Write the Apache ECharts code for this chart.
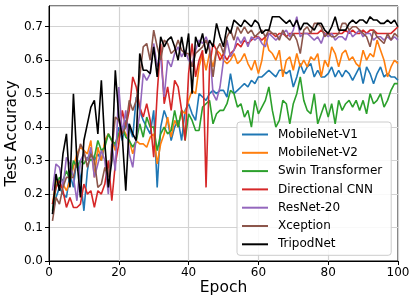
<!DOCTYPE html>
<html>
<head>
<meta charset="utf-8">
<script src="https://cdn.jsdelivr.net/npm/echarts@6/dist/echarts.min.js"></script>
<style>html,body{margin:0;padding:0;background:#fff}#c{width:415px;height:303px}</style>
</head>
<body>
<div id="c"></div>
<script>
const epochs = Array.from({length: 100}, (_, i) => i + 1);
const seriesNames = ["MobileNet-V1", "MobileNet-V2", "Swin Transformer", "Directional CNN", "ResNet-20", "Xception", "TripodNet"];
const mobilenetV1 = [0.14,0.19,0.22,0.20,0.19,0.26,0.22,0.31,0.25,0.15,0.27,0.33,0.30,0.32,0.30,0.35,0.38,0.36,0.34,0.40,0.36,0.42,0.40,0.37,0.49,0.45,0.42,0.40,0.38,0.45,0.22,0.40,0.45,0.42,0.36,0.40,0.42,0.36,0.45,0.47,0.44,0.42,0.50,0.49,0.48,0.50,0.51,0.50,0.51,0.51,0.49,0.56,0.50,0.51,0.52,0.53,0.52,0.54,0.53,0.55,0.55,0.56,0.57,0.56,0.55,0.57,0.57,0.56,0.57,0.52,0.55,0.59,0.56,0.58,0.59,0.55,0.57,0.55,0.55,0.56,0.58,0.55,0.57,0.55,0.57,0.56,0.54,0.56,0.58,0.53,0.58,0.56,0.53,0.56,0.58,0.55,0.56,0.55,0.55,0.54];
const mobilenetV2 = [0.17,0.24,0.22,0.23,0.21,0.24,0.28,0.32,0.34,0.33,0.32,0.36,0.25,0.34,0.30,0.36,0.38,0.36,0.33,0.38,0.40,0.38,0.36,0.32,0.36,0.35,0.35,0.34,0.37,0.38,0.29,0.35,0.38,0.43,0.37,0.42,0.40,0.45,0.44,0.48,0.51,0.50,0.58,0.62,0.57,0.62,0.58,0.63,0.62,0.60,0.59,0.60,0.62,0.59,0.60,0.62,0.59,0.57,0.60,0.56,0.60,0.67,0.63,0.62,0.60,0.63,0.55,0.60,0.61,0.57,0.62,0.58,0.60,0.58,0.61,0.60,0.62,0.55,0.60,0.58,0.64,0.62,0.58,0.62,0.63,0.60,0.61,0.59,0.58,0.63,0.60,0.62,0.61,0.66,0.63,0.60,0.55,0.58,0.60,0.59];
const swin = [0.15,0.22,0.25,0.24,0.27,0.24,0.30,0.28,0.30,0.29,0.31,0.30,0.31,0.36,0.33,0.34,0.38,0.36,0.35,0.38,0.40,0.37,0.36,0.34,0.36,0.41,0.37,0.43,0.40,0.40,0.33,0.38,0.40,0.38,0.39,0.45,0.40,0.45,0.36,0.44,0.42,0.39,0.39,0.46,0.47,0.48,0.41,0.44,0.45,0.45,0.47,0.51,0.50,0.46,0.47,0.43,0.45,0.40,0.48,0.44,0.46,0.48,0.52,0.45,0.40,0.42,0.48,0.47,0.41,0.47,0.50,0.55,0.48,0.45,0.44,0.50,0.41,0.44,0.47,0.43,0.47,0.41,0.48,0.45,0.47,0.48,0.46,0.48,0.45,0.48,0.44,0.50,0.47,0.48,0.50,0.46,0.48,0.51,0.53,0.53];
const directionalCnn = [0.17,0.22,0.24,0.21,0.16,0.19,0.16,0.16,0.17,0.23,0.20,0.21,0.16,0.21,0.20,0.23,0.30,0.18,0.29,0.35,0.45,0.40,0.45,0.55,0.52,0.46,0.43,0.47,0.42,0.31,0.50,0.65,0.47,0.52,0.45,0.54,0.52,0.45,0.36,0.56,0.65,0.55,0.60,0.63,0.22,0.58,0.65,0.63,0.60,0.62,0.60,0.62,0.63,0.65,0.64,0.66,0.65,0.66,0.67,0.67,0.66,0.67,0.68,0.68,0.67,0.68,0.68,0.67,0.68,0.68,0.68,0.68,0.68,0.68,0.68,0.68,0.68,0.69,0.68,0.68,0.68,0.68,0.68,0.68,0.69,0.68,0.69,0.68,0.68,0.69,0.68,0.69,0.69,0.68,0.68,0.68,0.68,0.68,0.69,0.70];
const resnet20 = [0.21,0.29,0.28,0.22,0.31,0.29,0.25,0.18,0.30,0.32,0.30,0.34,0.25,0.29,0.33,0.30,0.20,0.35,0.27,0.52,0.38,0.45,0.32,0.28,0.37,0.44,0.56,0.54,0.56,0.65,0.58,0.61,0.49,0.60,0.58,0.62,0.64,0.61,0.63,0.60,0.59,0.63,0.66,0.65,0.67,0.64,0.50,0.48,0.52,0.60,0.66,0.61,0.63,0.67,0.65,0.67,0.64,0.67,0.66,0.67,0.65,0.64,0.68,0.67,0.66,0.67,0.68,0.69,0.67,0.69,0.73,0.67,0.68,0.68,0.67,0.66,0.67,0.65,0.68,0.67,0.68,0.66,0.67,0.67,0.66,0.69,0.67,0.68,0.69,0.67,0.68,0.68,0.66,0.67,0.67,0.66,0.67,0.66,0.67,0.66];
const xception = [0.12,0.19,0.17,0.22,0.25,0.25,0.25,0.30,0.35,0.33,0.28,0.32,0.30,0.22,0.23,0.28,0.25,0.33,0.43,0.42,0.38,0.40,0.48,0.45,0.48,0.55,0.64,0.65,0.60,0.69,0.64,0.60,0.66,0.65,0.62,0.63,0.66,0.63,0.62,0.62,0.58,0.62,0.63,0.64,0.66,0.63,0.55,0.63,0.65,0.62,0.67,0.69,0.66,0.70,0.68,0.70,0.68,0.69,0.67,0.68,0.69,0.67,0.69,0.68,0.68,0.66,0.69,0.67,0.66,0.68,0.66,0.62,0.69,0.70,0.68,0.71,0.71,0.70,0.67,0.68,0.67,0.67,0.68,0.71,0.71,0.69,0.70,0.70,0.69,0.68,0.67,0.64,0.69,0.67,0.66,0.65,0.68,0.66,0.68,0.67];
const tripodNet = [0.14,0.26,0.21,0.32,0.38,0.22,0.50,0.30,0.19,0.36,0.41,0.46,0.48,0.38,0.54,0.35,0.22,0.30,0.57,0.43,0.37,0.21,0.41,0.38,0.36,0.62,0.57,0.57,0.56,0.64,0.55,0.67,0.64,0.66,0.67,0.64,0.60,0.67,0.61,0.68,0.50,0.67,0.64,0.68,0.62,0.66,0.64,0.71,0.67,0.64,0.70,0.68,0.72,0.71,0.70,0.72,0.71,0.70,0.72,0.71,0.68,0.69,0.69,0.73,0.73,0.73,0.72,0.71,0.72,0.70,0.72,0.69,0.71,0.71,0.70,0.69,0.71,0.71,0.69,0.68,0.70,0.73,0.69,0.69,0.69,0.71,0.72,0.71,0.72,0.72,0.71,0.73,0.72,0.72,0.71,0.71,0.72,0.71,0.72,0.70];
const xTicks = [0, 20, 40, 60, 80, 100];
const yTicks = [0.0, 0.1, 0.2, 0.3, 0.4, 0.5, 0.6, 0.7];
const colors = ["#1f77b4", "#ff7f0e", "#2ca02c", "#d62728", "#9467bd", "#8c564b", "#000000"];
const allValues = [mobilenetV1, mobilenetV2, swin, directionalCnn, resnet20, xception, tripodNet];

const chart = echarts.init(document.getElementById('c'), null, {renderer: 'canvas'});
const font = 'DejaVu Sans';
chart.setOption({
  animation: false,
  backgroundColor: '#fff',
  color: colors,
  grid: {left: 49, right: 17, top: 6, bottom: 42, containLabel: false, outerBoundsMode: 'none',
    show: true, borderColor: '#000', borderWidth: 1, backgroundColor: 'transparent'},
  xAxis: {
    type: 'value', min: 0, max: 100, interval: 20,
    name: 'Epoch', nameLocation: 'middle', nameGap: 19, nameMoveOverlap: false,
    nameTextStyle: {fontFamily: font, fontSize: 15.5, color: '#000'},
    axisLine: {show: true, lineStyle: {color: '#000', width: 1}},
    axisTick: {show: true, inside: false, length: 4, lineStyle: {color: '#000'}},
    axisLabel: {fontFamily: font, fontSize: 12, color: '#000', margin: 6,
      formatter: v => xTicks.includes(v) ? String(v) : ''},
    splitLine: {show: true, lineStyle: {color: '#d3d3d3', width: 1.2}}
  },
  yAxis: {
    type: 'value', min: 0, max: 0.762, interval: 0.1,
    name: 'Test Accuracy', nameLocation: 'middle', nameGap: 29, nameMoveOverlap: false,
    nameTextStyle: {fontFamily: font, fontSize: 15.5, color: '#000'},
    axisLine: {show: true, lineStyle: {color: '#000', width: 1}},
    axisTick: {show: true, inside: false, length: 4, lineStyle: {color: '#000'}},
    axisLabel: {fontFamily: font, fontSize: 12, color: '#000', margin: 6, showMaxLabel: false,
      formatter: v => { const m = yTicks.find(t => Math.abs(t - v) < 1e-6); return m === undefined ? '' : m.toFixed(1); }},
    splitLine: {show: true, lineStyle: {color: '#d3d3d3', width: 1.2}}
  },
  legend: {
    data: seriesNames,
    orient: 'vertical', left: 237, top: 122,
    padding: [5.5, 9, 4, 5],
    icon: 'rect',
    itemWidth: 26, itemHeight: 2, itemGap: 4.3,
    backgroundColor: 'rgba(255,255,255,0.85)', borderColor: '#cccccc', borderWidth: 1, borderRadius: 3,
    textStyle: {fontFamily: font, fontSize: 12, lineHeight: 14, color: '#000', padding: [0, 0, 0, 5]}
  },
  series: seriesNames.map((name, i) => ({
    name: name, type: 'line', symbol: 'none', showSymbol: false,
    data: epochs.map((e, j) => [e, allValues[i][j]]),
    lineStyle: {width: 1.6, color: colors[i]},
    itemStyle: {color: colors[i]},
    z: 2 + i
  }))
});
</script>
</body>
</html>
